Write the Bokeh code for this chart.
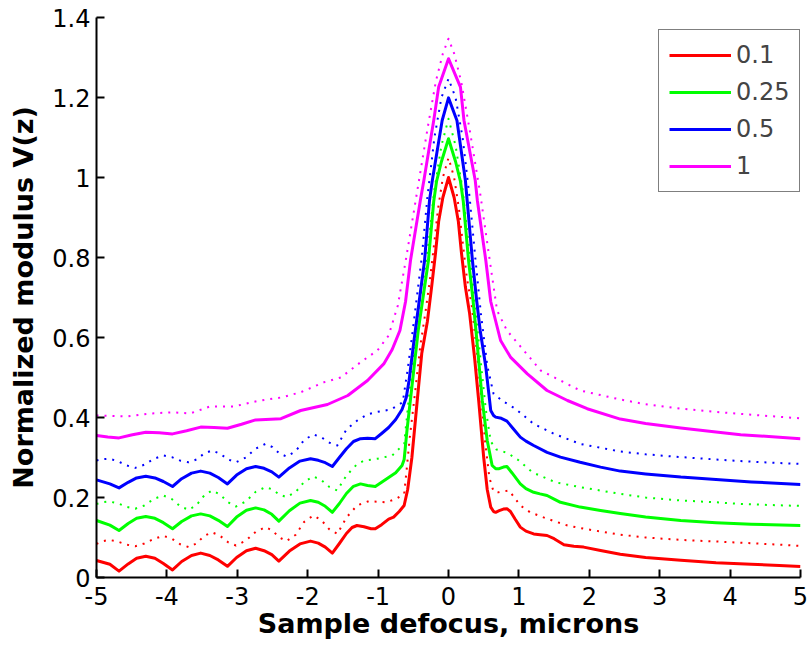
from bokeh.plotting import figure
from bokeh.models import Range1d, FixedTicker, Legend, LegendItem
from bokeh.embed import file_html
from bokeh.resources import INLINE

# ---------------- data ----------------
legend_labels = ["0.1", "0.25", "0.5", "1"]
colors = ["#FF0000", "#00FF00", "#0000FF", "#FF00FF"]

x_ticks = [-5, -4, -3, -2, -1, 0, 1, 2, 3, 4, 5]
x_tick_labels = ["-5", "-4", "-3", "-2", "-1", "0", "1", "2", "3", "4", "5"]
y_ticks = [0, 0.2, 0.4, 0.6, 0.8, 1.0, 1.2, 1.4]
y_tick_labels = ["0", "0.2", "0.4", "0.6", "0.8", "1", "1.2", "1.4"]

# 0.1 solid
x_01_solid = [-5.0, -4.81, -4.68, -4.55, -4.43, -4.30, -4.17, -4.05, -3.92, -3.79, -3.65, -3.52, -3.39, -3.27,
              -3.14, -3.01, -2.87, -2.74, -2.62, -2.51, -2.41, -2.26, -2.11, -1.96, -1.85, -1.75, -1.65, -1.55,
              -1.45, -1.37, -1.30, -1.20, -1.10, -1.04, -0.95, -0.85, -0.78, -0.70, -0.63, -0.58, -0.52, -0.44,
              -0.38, -0.30, -0.24, -0.185, -0.14, -0.08, 0.0, 0.08, 0.14, 0.185, 0.24, 0.30, 0.37, 0.43, 0.50,
              0.55, 0.60, 0.64, 0.67, 0.72, 0.78, 0.83, 0.88, 0.95, 1.02, 1.10, 1.21, 1.30, 1.40, 1.50, 1.64,
              1.78, 1.92, 2.16, 2.44, 2.8, 3.3, 3.8, 4.3, 4.7, 5.0]
y_01_solid = [0.0425, 0.033, 0.016, 0.034, 0.048, 0.053, 0.048, 0.035, 0.019, 0.040, 0.055, 0.061, 0.055, 0.044,
              0.028, 0.050, 0.067, 0.073, 0.067, 0.057, 0.041, 0.066, 0.084, 0.091, 0.086, 0.076, 0.061, 0.085,
              0.110, 0.125, 0.130, 0.127, 0.122, 0.122, 0.132, 0.146, 0.151, 0.165, 0.180, 0.220, 0.300, 0.450,
              0.560, 0.640, 0.726, 0.810, 0.890, 0.950, 1.000, 0.950, 0.890, 0.810, 0.726, 0.660, 0.550, 0.440,
              0.300, 0.220, 0.176, 0.165, 0.163, 0.167, 0.171, 0.172, 0.165, 0.145, 0.126, 0.116, 0.109, 0.107,
              0.105, 0.097, 0.082, 0.078, 0.076, 0.0675, 0.058, 0.050, 0.043, 0.037, 0.033, 0.030, 0.0275]

# 0.25 solid
x_025_solid = [-5.0, -4.81, -4.68, -4.55, -4.43, -4.30, -4.17, -4.05, -3.92, -3.79, -3.65, -3.52, -3.39, -3.27,
               -3.14, -3.01, -2.87, -2.74, -2.62, -2.51, -2.41, -2.26, -2.11, -1.96, -1.85, -1.75, -1.65, -1.55,
               -1.45, -1.35, -1.25, -1.15, -1.04, -0.95, -0.85, -0.75, -0.66, -0.63, -0.59, -0.51, -0.43, -0.285,
               -0.21, -0.17, -0.10, 0.0, 0.10, 0.17, 0.21, 0.285, 0.35, 0.39, 0.48, 0.55, 0.62, 0.67, 0.72, 0.78,
               0.83, 0.90, 1.02, 1.10, 1.21, 1.30, 1.40, 1.50, 1.59, 1.87, 2.16, 2.44, 2.8, 3.3, 3.8, 4.3, 5.0]
y_025_solid = [0.1425, 0.131, 0.1175, 0.135, 0.148, 0.1525, 0.148, 0.137, 0.122, 0.140, 0.154, 0.159, 0.154,
               0.143, 0.1275, 0.151, 0.168, 0.174, 0.169, 0.158, 0.141, 0.167, 0.186, 0.1925, 0.188, 0.178, 0.163,
               0.185, 0.210, 0.228, 0.234, 0.230, 0.2275, 0.238, 0.250, 0.262, 0.280, 0.295, 0.3675, 0.4925,
               0.6175, 0.7925, 0.940, 0.990, 1.040, 1.097, 1.040, 0.990, 0.940, 0.7925, 0.690, 0.6175, 0.4425,
               0.3425, 0.280, 0.272, 0.272, 0.276, 0.2775, 0.262, 0.234, 0.222, 0.213, 0.209, 0.205, 0.196, 0.188,
               0.176, 0.1675, 0.160, 0.151, 0.1425, 0.137, 0.133, 0.130]

# 0.5 solid
x_05_solid = [-5.0, -4.81, -4.68, -4.55, -4.43, -4.30, -4.17, -4.05, -3.92, -3.79, -3.65, -3.52, -3.39, -3.27,
              -3.14, -3.01, -2.87, -2.74, -2.62, -2.51, -2.41, -2.26, -2.11, -1.96, -1.85, -1.75, -1.65, -1.55,
              -1.45, -1.35, -1.25, -1.15, -1.04, -0.95, -0.85, -0.75, -0.66, -0.60, -0.56, -0.49, -0.34, -0.27,
              -0.23, -0.09, 0.0, 0.12, 0.24, 0.265, 0.34, 0.40, 0.45, 0.53, 0.60, 0.64, 0.67, 0.75, 0.83, 0.92,
              1.02, 1.10, 1.21, 1.40, 1.59, 1.87, 2.16, 2.44, 2.8, 3.3, 3.8, 4.3, 5.0]
y_05_solid = [0.244, 0.234, 0.224, 0.238, 0.249, 0.253, 0.249, 0.240, 0.2275, 0.247, 0.261, 0.266, 0.261, 0.250,
              0.234, 0.256, 0.272, 0.2775, 0.273, 0.264, 0.251, 0.274, 0.291, 0.297, 0.293, 0.287, 0.2775, 0.300,
              0.322, 0.340, 0.347, 0.348, 0.347, 0.360, 0.375, 0.395, 0.420, 0.450, 0.4925, 0.5925, 0.7925,
              0.9425, 0.9925, 1.1425, 1.199, 1.1425, 0.9925, 0.9425, 0.7925, 0.6925, 0.6175, 0.526, 0.4175,
              0.405, 0.401, 0.398, 0.391, 0.372, 0.351, 0.341, 0.330, 0.313, 0.301, 0.288, 0.276, 0.266, 0.259,
              0.251, 0.245, 0.239, 0.2325]

# 1 solid
x_1_solid = [-5.0, -4.84, -4.68, -4.49, -4.30, -4.11, -3.92, -3.72, -3.52, -3.33, -3.14, -2.94, -2.74, -2.38,
             -2.10, -1.72, -1.43, -1.15, -0.92, -0.80, -0.69, -0.61, -0.54, -0.40, -0.35, -0.21, -0.14, 0.0,
             0.17, 0.22, 0.38, 0.41, 0.53, 0.60, 0.74, 0.88, 1.12, 1.40, 1.69, 1.97, 2.44, 2.8, 3.3, 3.8,
             4.15, 4.6, 5.0]
y_1_solid = [0.355, 0.351, 0.349, 0.357, 0.363, 0.362, 0.359, 0.367, 0.376, 0.375, 0.373, 0.383, 0.394, 0.397,
             0.4175, 0.4325, 0.455, 0.4925, 0.534, 0.570, 0.6175, 0.690, 0.7925, 0.9425, 0.9925, 1.1425, 1.226,
             1.297, 1.226, 1.1425, 0.9925, 0.9425, 0.7925, 0.690, 0.5925, 0.551, 0.509, 0.4675, 0.4425, 0.422,
             0.396, 0.385, 0.374, 0.364, 0.357, 0.352, 0.347]

# 0.1 dotted
x_01_dot = [-5.0, -4.91, -4.82, -4.70, -4.57, -4.45, -4.32, -4.18, -4.05, -3.93, -3.81, -3.69, -3.58, -3.47,
            -3.36, -3.25, -3.13, -3.02, -2.88, -2.74, -2.60, -2.50, -2.40, -2.30, -2.17, -2.05, -1.92, -1.81,
            -1.69, -1.58, -1.45, -1.30, -1.13, -0.89, -0.75, -0.63, -0.60, -0.55, -0.47, -0.40, -0.33, -0.26,
            -0.20, -0.15, -0.08, 0.0, 0.08, 0.15, 0.20, 0.26, 0.33, 0.40, 0.46, 0.52, 0.58, 0.64, 0.71, 0.86,
            1.02, 1.16, 1.40, 1.69, 1.92, 2.44, 2.8, 3.3, 3.8, 4.15, 4.6, 5.0]
y_01_dot = [0.084, 0.091, 0.094, 0.090, 0.082, 0.078, 0.085, 0.097, 0.104, 0.097, 0.083, 0.076, 0.085, 0.104,
            0.113, 0.105, 0.088, 0.080, 0.092, 0.114, 0.126, 0.117, 0.100, 0.091, 0.107, 0.139, 0.155, 0.144,
            0.120, 0.109, 0.150, 0.180, 0.191, 0.188, 0.196, 0.209, 0.260, 0.350, 0.470, 0.580, 0.660, 0.750,
            0.840, 0.920, 1.000, 1.049, 1.000, 0.920, 0.840, 0.750, 0.680, 0.570, 0.460, 0.340, 0.250, 0.215,
            0.213, 0.2175, 0.180, 0.163, 0.147, 0.130, 0.122, 0.107, 0.100, 0.094, 0.090, 0.087, 0.083, 0.079]

# 0.25 dotted
x_025_dot = [-5.0, -4.91, -4.82, -4.70, -4.57, -4.45, -4.32, -4.18, -4.05, -3.93, -3.81, -3.69, -3.58, -3.47,
             -3.36, -3.25, -3.13, -3.02, -2.88, -2.74, -2.60, -2.50, -2.40, -2.30, -2.17, -2.05, -1.92, -1.81,
             -1.69, -1.58, -1.45, -1.30, -1.20, -1.01, -0.80, -0.63, -0.58, -0.52, -0.46, -0.30, -0.20, -0.10,
             0.0, 0.10, 0.20, 0.30, 0.40, 0.47, 0.53, 0.60, 0.68, 0.74, 0.85, 1.0, 1.19, 1.52, 1.87, 2.44, 2.8,
             3.3, 3.8, 4.15, 4.6, 5.0]
y_025_dot = [0.184, 0.188, 0.190, 0.1855, 0.1765, 0.172, 0.180, 0.197, 0.205, 0.196, 0.178, 0.169, 0.181, 0.205,
             0.2175, 0.208, 0.188, 0.1775, 0.190, 0.214, 0.226, 0.220, 0.207, 0.201, 0.214, 0.239, 0.2525, 0.244,
             0.226, 0.2175, 0.255, 0.283, 0.292, 0.297, 0.305, 0.334, 0.420, 0.520, 0.630, 0.810, 0.970, 1.080,
             1.147, 1.080, 0.970, 0.810, 0.640, 0.520, 0.420, 0.340, 0.320, 0.3175, 0.310, 0.2925, 0.263, 0.238,
             0.226, 0.209, 0.200, 0.1925, 0.188, 0.184, 0.181, 0.179]

# 0.5 dotted
x_05_dot = [-5.0, -4.91, -4.82, -4.70, -4.57, -4.45, -4.32, -4.18, -4.05, -3.93, -3.81, -3.69, -3.58, -3.47,
            -3.36, -3.25, -3.13, -3.02, -2.88, -2.74, -2.60, -2.50, -2.40, -2.30, -2.17, -2.05, -1.92, -1.81,
            -1.69, -1.58, -1.45, -1.30, -1.15, -1.04, -0.82, -0.65, -0.58, -0.52, -0.38, -0.30, -0.20, -0.10,
            0.0, 0.10, 0.20, 0.30, 0.38, 0.46, 0.55, 0.64, 0.78, 0.95, 1.21, 1.50, 1.87, 2.44, 2.8, 3.3, 3.8,
            4.15, 4.6, 5.0]
y_05_dot = [0.2925, 0.296, 0.297, 0.291, 0.280, 0.274, 0.282, 0.297, 0.305, 0.301, 0.292, 0.288, 0.295, 0.310,
            0.3175, 0.310, 0.295, 0.288, 0.300, 0.322, 0.334, 0.326, 0.310, 0.3025, 0.316, 0.344, 0.3575, 0.351,
            0.337, 0.330, 0.370, 0.392, 0.408, 0.413, 0.420, 0.438, 0.520, 0.600, 0.800, 0.950, 1.100, 1.200,
            1.247, 1.200, 1.100, 0.950, 0.800, 0.660, 0.530, 0.459, 0.440, 0.422, 0.384, 0.359, 0.334, 0.315,
            0.308, 0.301, 0.295, 0.291, 0.287, 0.284]

# 1 dotted
x_1_dot = [-5.0, -4.57, -4.24, -3.91, -3.67, -3.39, -3.05, -2.72, -2.38, -2.10, -1.77, -1.53, -1.25, -1.01,
           -0.85, -0.72, -0.60, -0.45, -0.30, -0.18, -0.08, 0.0, 0.08, 0.18, 0.30, 0.45, 0.58, 0.69, 0.83,
           1.07, 1.31, 1.59, 1.87, 2.44, 2.8, 3.3, 3.8, 4.15, 4.6, 5.0]
y_1_dot = [0.405, 0.4025, 0.410, 0.413, 0.410, 0.4275, 0.4275, 0.441, 0.450, 0.463, 0.488, 0.500, 0.538,
           0.5675, 0.605, 0.680, 0.800, 0.960, 1.120, 1.240, 1.310, 1.347, 1.310, 1.240, 1.120, 0.960, 0.800,
           0.6675, 0.6175, 0.5675, 0.5175, 0.4925, 0.4675, 0.445, 0.433, 0.422, 0.414, 0.409, 0.403, 0.398]

solid_series = [(x_01_solid, y_01_solid), (x_025_solid, y_025_solid),
                (x_05_solid, y_05_solid), (x_1_solid, y_1_solid)]
dotted_series = [(x_01_dot, y_01_dot), (x_025_dot, y_025_dot),
                 (x_05_dot, y_05_dot), (x_1_dot, y_1_dot)]

# ---------------- figure ----------------
FONT = "DejaVu Sans"
p = figure(width=808, height=646, output_backend="svg", toolbar_location=None,
           x_range=Range1d(-5, 5), y_range=Range1d(0, 1.4),
           min_border_left=96, min_border_right=8, min_border_top=17, min_border_bottom=69)
p.background_fill_color = "white"
p.border_fill_color = "white"
p.outline_line_color = None
p.grid.visible = False

for (xs, ys), c in zip(dotted_series, colors):
    p.line(xs, ys, line_color=c, line_width=2, line_dash="2 6", line_join="round")

solid_renderers = []
for (xs, ys), c in zip(solid_series, colors):
    r = p.line(xs, ys, line_color=c, line_width=3, line_join="round")
    solid_renderers.append(r)

for ax in (p.xaxis[0], p.yaxis[0]):
    ax.axis_line_color = "black"
    ax.axis_line_width = 2
    ax.major_tick_line_color = "black"
    ax.major_tick_line_width = 2
    ax.major_tick_in = 8
    ax.major_tick_out = 0
    ax.minor_tick_line_color = None
    ax.major_label_text_font = FONT
    ax.major_label_text_font_size = "24px"
    ax.major_label_text_color = "black"
    ax.axis_label_text_font = FONT
    ax.axis_label_text_font_style = "bold"
    ax.axis_label_text_font_size = "27px"
    ax.axis_label_text_color = "black"

p.xaxis[0].ticker = FixedTicker(ticks=x_ticks)
p.xaxis[0].major_label_overrides = {t: l for t, l in zip(x_ticks, x_tick_labels)}
p.xaxis[0].axis_label = "Sample defocus, microns"
p.xaxis[0].major_label_standoff = 9
p.xaxis[0].axis_label_standoff = 0

p.yaxis[0].ticker = FixedTicker(ticks=y_ticks)
p.yaxis[0].major_label_overrides = {t: l for t, l in zip(y_ticks, y_tick_labels)}
p.yaxis[0].axis_label = "Normalized modulus V(z)"
p.yaxis[0].major_label_standoff = 6
p.yaxis[0].axis_label_standoff = 10

legend = Legend(items=[LegendItem(label=lab, renderers=[r]) for lab, r in zip(legend_labels, solid_renderers)],
                location=(562, 385))
legend.border_line_color = "black"
legend.border_line_width = 1
legend.background_fill_color = "white"
legend.background_fill_alpha = 1
legend.label_text_font = FONT
legend.label_text_font_size = "24px"
legend.glyph_width = 62
legend.glyph_height = 30
legend.label_height = 30
legend.label_width = 52
legend.spacing = 7
legend.padding = 10
legend.margin = 0
legend.label_standoff = 5
p.add_layout(legend)

open("out.html", "w").write(file_html(p, INLINE))
